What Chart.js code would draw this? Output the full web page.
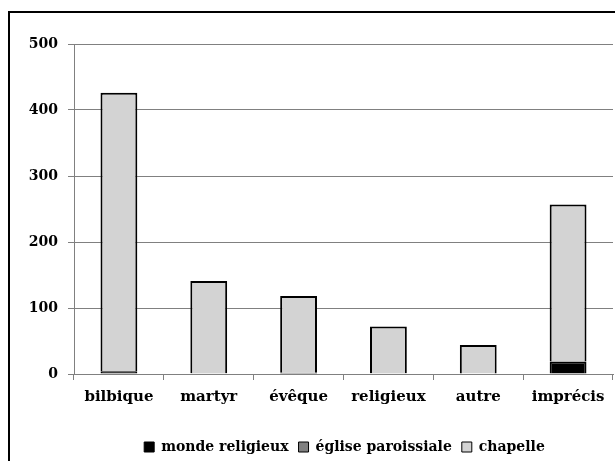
<!DOCTYPE html>
<html>
<head>
<meta charset="utf-8">
<script src="https://cdn.jsdelivr.net/npm/chart.js@4.4.1/dist/chart.umd.min.js"></script>
<style>
  html, body { margin: 0; padding: 0; background: #fff; overflow: hidden; }
  body { width: 615px; height: 461px; position: relative; }
  #frame { position: absolute; left: 8px; top: 11px; width: 700px; height: 600px; border: 2px solid #000; }
  #chart { position: absolute; left: 0; top: 0; }
</style>
</head>
<body>
<div id="frame"></div>
<canvas id="chart" width="615" height="470"></canvas>
<script>
const categories = ['bilbique', 'martyr', 'évêque', 'religieux', 'autre', 'imprécis'];
const mondeReligieux = [4, 1, 2, 1, 0, 19];
const egliseParoissiale = [0, 0, 0, 0, 0, 0];
const chapelle = [422, 140, 116, 71, 44, 238];
const yTicks = [0, 100, 200, 300, 400, 500];

const FONT = { family: '"DejaVu Serif", serif', size: 14, weight: 'bold' };
const XFONT = { ...FONT, size: 15 };
const GRID = '#808080';

// the legend in the original sits right of centre
const legendShift = {
  id: 'legendShift',
  afterLayout(chart) {
    chart.legend.left += 38;
    chart.legend.right += 38;
  }
};

new Chart(document.getElementById('chart'), {
  type: 'bar',
  data: {
    labels: categories,
    datasets: [
      { label: 'monde religieux', data: mondeReligieux, backgroundColor: '#000', borderColor: '#000', borderWidth: 2 },
      { label: 'église paroissiale', data: egliseParoissiale, backgroundColor: '#808080', borderColor: '#000', borderWidth: 2 },
      { label: 'chapelle', data: chapelle, backgroundColor: '#d3d3d3', borderColor: '#000', borderWidth: 2 }
    ]
  },
  plugins: [legendShift],
  options: {
    responsive: false,
    animation: false,
    devicePixelRatio: 1,
    categoryPercentage: 1,
    barPercentage: 0.41,
    layout: { padding: { left: 0, top: 44, right: 2, bottom: 6 } },
    plugins: {
      tooltip: { enabled: false },
      legend: {
        position: 'bottom',
        labels: {
          boxWidth: 10,
          boxHeight: 10,
          padding: 10,
          color: '#000',
          font: FONT,
          generateLabels: chart => Chart.defaults.plugins.legend.labels.generateLabels(chart)
            .map(l => ({ ...l, lineWidth: 1 }))
        }
      }
    },
    scales: {
      x: {
        stacked: true,
        afterFit: scale => { scale.height = 56; },
        grid: { drawOnChartArea: false, drawTicks: true, tickLength: 6, color: GRID },
        border: { color: GRID },
        ticks: { color: '#000', font: XFONT, padding: 8 }
      },
      y: {
        stacked: true,
        min: 0,
        max: 500,
        afterFit: scale => { scale.width = 74; },
        afterBuildTicks: scale => { scale.ticks = yTicks.map(v => ({ value: v })); },
        grid: { color: GRID, tickLength: 6 },
        border: { color: GRID },
        ticks: { color: '#000', font: FONT, padding: 10 }
      }
    }
  }
});
</script>
</body>
</html>
